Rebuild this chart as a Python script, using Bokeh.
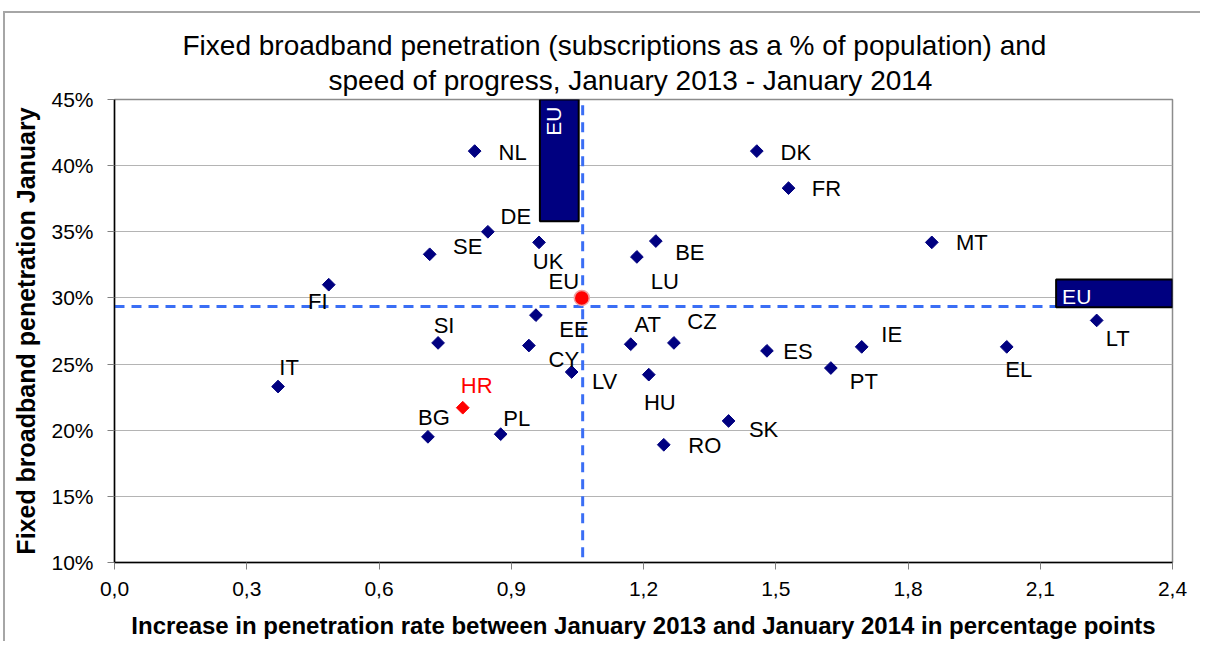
import numpy as np
from bokeh.plotting import figure
from bokeh.models import ColumnDataSource, FixedTicker, Title
from bokeh.core.properties import value
from bokeh.embed import file_html
from bokeh.resources import INLINE

# ---- data ----
countries = ["NL", "DK", "FR", "MT", "DE", "SE", "UK", "BE", "LU", "FI",
             "LT", "EE", "CY", "SI", "AT", "CZ", "ES", "IE", "EL", "LV",
             "HU", "PT", "IT", "HR", "BG", "PL", "SK", "RO"]
increase = [0.817, 1.457, 1.529, 1.854, 0.847, 0.715, 0.963, 1.228, 1.185, 0.486,
            2.228, 0.956, 0.940, 0.734, 1.171, 1.269, 1.480, 1.695, 2.024, 1.037,
            1.212, 1.625, 0.371, 0.790, 0.711, 0.876, 1.393, 1.246]
penetration = [41.1, 41.1, 38.3, 34.2, 35.0, 33.3, 34.2, 34.3, 33.1, 31.0,
               28.3, 28.7, 26.4, 26.6, 26.5, 26.6, 26.0, 26.3, 26.3, 24.4,
               24.2, 24.7, 23.3, 21.7, 19.5, 19.7, 20.7, 18.9]
eu_point = (1.060, 30.0)
eu_avg_x = 1.062
eu_avg_y = 29.35
x_ticks = [0.0, 0.3, 0.6, 0.9, 1.2, 1.5, 1.8, 2.1, 2.4]
y_ticks = [10, 15, 20, 25, 30, 35, 40, 45]

# label placement (screen pixel offsets from the point, y down)
label_dx = [38, 39, 38, 40, 28, 38, 9, 34, 28, -11,
            21, 38, 35, 6, 17, 28, 31, 30, 12, 33,
            11, 33, 11, 14, 6, 16, 35, 41]
label_dy = [1, 1, 0, 0, -15, -8, 19, 11, 25, 17,
            18, 14, 14, -17, -20, -21, 1, -12, 23, 9,
            28, 13, -19, -22, -19, -16, 9, 1]

FONT = "Liberation Sans"
NAVY = "#000080"
BLUE = "#3A6EF5"

colors = ["#FF0000" if c == "HR" else NAVY for c in countries]
text_colors = ["#FF0000" if c == "HR" else "black" for c in countries]
src = ColumnDataSource(dict(x=increase, y=penetration, name=countries,
                            color=colors, tcolor=text_colors,
                            dx=label_dx, dy=label_dy))

p = figure(width=1200, height=641, x_range=(0, 2.4), y_range=(10, 45),
           output_backend="svg", toolbar_location=None,
           min_border_left=114, min_border_right=28, min_border_top=99,
           min_border_bottom=78)
p.title = None
p.add_layout(Title(text="speed of progress, January 2013 - January 2014",
                   align="left", offset=214, text_font=FONT, text_font_size="28px",
                   text_font_style="normal", text_color="black", standoff=7), "above")
p.add_layout(Title(text="Fixed broadband penetration (subscriptions as a % of population) and",
                   align="left", offset=68, text_font=FONT, text_font_size="28px",
                   text_font_style="normal", text_color="black", standoff=-3), "above")

# chart-area frame (thin grey lines at top and left of the chart box)
p.border_fill_alpha = 0
p.styles = {
    "background-color": "white",
    "background-image": "linear-gradient(#A6A6A6, #A6A6A6), linear-gradient(#A6A6A6, #A6A6A6)",
    "background-position": "3px 11px, 3px 11px",
    "background-size": "100% 2px, 2px 100%",
    "background-repeat": "no-repeat, no-repeat",
}

p.background_fill_color = "white"
p.outline_line_color = "#8C8C8C"
p.outline_line_width = 1.5

p.xgrid.grid_line_color = None
p.ygrid.grid_line_color = "#B4B4B4"
p.ygrid.grid_line_width = 1.2

p.xaxis.ticker = FixedTicker(ticks=x_ticks)
p.xaxis.major_label_overrides = {t: f"{t:.1f}".replace(".", ",") for t in x_ticks}
p.yaxis.ticker = FixedTicker(ticks=y_ticks)
p.yaxis.major_label_overrides = {t: f"{t}%" for t in y_ticks}
for ax in (p.xaxis[0], p.yaxis[0]):
    ax.axis_line_color = "black"
    ax.axis_line_width = 1.5
    ax.major_tick_line_color = "#808080"
    ax.major_tick_out = 7
    ax.major_tick_in = 0
    ax.minor_tick_line_color = None
    ax.major_label_text_font = FONT
    ax.major_label_text_font_size = "21px"
    ax.major_label_text_color = "black"
    ax.axis_label_text_font = FONT
    ax.axis_label_text_font_style = "bold"
    ax.axis_label_text_color = "black"
p.xaxis.axis_label_text_font_size = "24px"
p.yaxis.axis_label_text_font_size = "25px"
p.xaxis.axis_label = "Increase in penetration rate between January 2013 and January 2014 in percentage points"
p.yaxis.axis_label = "Fixed broadband penetration January"
p.xaxis.major_label_standoff = 12
p.xaxis.axis_label_standoff = 13
p.yaxis.major_label_standoff = 14
p.yaxis.axis_label_standoff = 8

# EU average dashed lines
p.segment(x0=[eu_avg_x, 0], y0=[10.4, eu_avg_y], x1=[eu_avg_x, 2.4], y1=[45, eu_avg_y],
          line_color=BLUE, line_width=3, line_dash="10 7")

# EU label boxes anchored to the average lines
p.quad(left=[eu_avg_x - 0.097], right=[eu_avg_x - 0.009], top=[45], bottom=[35.8],
       fill_color=NAVY, line_color="black", line_width=2)
p.quad(left=[2.136], right=[2.4], top=[eu_avg_y + 2.05], bottom=[eu_avg_y - 0.05],
       fill_color=NAVY, line_color="black", line_width=2)
p.text(x=[eu_avg_x - 0.062], y=[45], text=["EU"], angle=np.pi / 2,
       text_align="right", text_baseline="middle", x_offset=-2, y_offset=7,
       text_color="white", text_font=value(FONT), text_font_size="21px")
p.text(x=[2.136], y=[eu_avg_y], text=["EU"], x_offset=6, y_offset=1,
       text_align="left", text_baseline="bottom",
       text_color="white", text_font=value(FONT), text_font_size="21px")

# country points
p.scatter("x", "y", source=src, marker="square", size=9, angle=np.pi / 4,
          fill_color="color", line_color="color", line_width=1)
p.text("x", "y", text="name", source=src, x_offset="dx", y_offset="dy",
       text_align="center", text_baseline="middle", text_color="tcolor",
       text_font=value(FONT), text_font_size="22px")

# EU point
p.scatter([eu_point[0]], [eu_point[1]], marker="circle", size=15,
          fill_color="#FF0000", line_color="#F0A0A0", line_width=1.5)
p.text([eu_point[0]], [eu_point[1]], text=["EU"], x_offset=-18, y_offset=-16,
       text_align="center", text_baseline="middle", text_color="black",
       text_font=value(FONT), text_font_size="22px")

open("out.html", "w").write(file_html(p, INLINE))
